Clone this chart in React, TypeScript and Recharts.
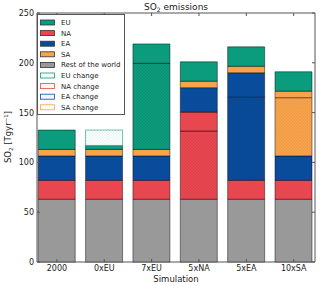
import React from "react";
import { BarChart, Bar, XAxis, YAxis, ReferenceArea } from "recharts";

const CATEGORIES = ["2000", "0xEU", "7xEU", "5xNA", "5xEA", "10xSA"];
const REST = [63, 63, 63, 63, 63, 63];
const NA = [19, 19, 19, 19, 19, 19];
const NA_CHANGE = [0, 0, 0, 68.5, 0, 0];
const EA = [24.5, 24.5, 24.5, 24.5, 24.5, 24.5];
const EA_CHANGE = [0, 0, 0, 0, 83.5, 0];
const SA = [6.5, 6.5, 6.5, 6.5, 6.5, 6.5];
const SA_CHANGE = [0, 0, 0, 0, 0, 58.5];
const EU = [19.5, 4, 19.5, 19.5, 19.5, 19.5];
const EU_CHANGE = [0, 0, 86.5, 0, 0, 0];
const EU_LOSS = [0, 15.5, 0, 0, 0, 0];
const Y_TICKS = [0, 50, 100, 150, 200, 250];

const COL = {
  EU: "#0a9c7c",
  NA: "#e9474f",
  EA: "#0a4c9c",
  SA: "#f8a24a",
  REST: "#999999",
};

const LEGEND = [
  { label: "EU", fill: COL.EU, stroke: "#333" },
  { label: "NA", fill: COL.NA, stroke: "#333" },
  { label: "EA", fill: COL.EA, stroke: "#333" },
  { label: "SA", fill: COL.SA, stroke: "#333" },
  { label: "Rest of the world", fill: COL.REST, stroke: "#333" },
  { label: "EU change", fill: "url(#w-eu)", stroke: COL.EU },
  { label: "NA change", fill: "url(#w-na)", stroke: COL.NA },
  { label: "EA change", fill: "url(#w-ea)", stroke: COL.EA },
  { label: "SA change", fill: "url(#w-sa)", stroke: COL.SA },
];

const data = CATEGORIES.map((c, i) => ({
  x: i,
  name: c,
  rest: REST[i],
  naChg: NA_CHANGE[i],
  na: NA[i],
  eaChg: EA_CHANGE[i],
  ea: EA[i],
  saChg: SA_CHANGE[i],
  sa: SA[i],
  euChg: EU_CHANGE[i],
  eu: EU[i],
  euLoss: EU_LOSS[i],
}));

const FONT = "DejaVu Sans, sans-serif";
const PLOT = { left: 37, right: 315, top: 13, bottom: 262 };

// hatched fills: solid colour + cross-hatch, or white + cross-hatch
function Hatch({ id, bg, line, op }: { id: string; bg: string; line: string; op: number }) {
  return (
    <pattern id={id} width="3" height="3" patternUnits="userSpaceOnUse">
      <rect width="3" height="3" fill={bg} />
      <path d="M0,0 L3,3 M3,0 L0,3" stroke={line} strokeWidth="0.5" strokeOpacity={op} />
    </pattern>
  );
}

function XTick(props: any) {
  const { x, payload } = props;
  return (
    <g>
      <line x1={x} x2={x} y1={PLOT.bottom} y2={PLOT.bottom - 3} stroke="#555" />
      <line x1={x} x2={x} y1={PLOT.top} y2={PLOT.top + 3} stroke="#555" />
      <text x={x} y={PLOT.bottom + 9} textAnchor="middle" fontSize={8} fontFamily={FONT} fill="#222">
        {CATEGORIES[payload.value]}
      </text>
    </g>
  );
}

function YTick(props: any) {
  const { y, payload } = props;
  return (
    <g>
      <line x1={PLOT.left} x2={PLOT.left + 3} y1={y} y2={y} stroke="#555" />
      <line x1={PLOT.right} x2={PLOT.right - 3} y1={y} y2={y} stroke="#555" />
      <text x={PLOT.left - 3} y={y + 3} textAnchor="end" fontSize={8} fontFamily={FONT} fill="#222">
        {payload.value}
      </text>
    </g>
  );
}

const EDGE = "rgba(0,0,0,0.45)";

export default function App() {
  return (
    <div style={{ position: "absolute", left: 0, top: 0, width: 320, height: 286, background: "#fff" }}>
      <svg width="0" height="0" style={{ position: "absolute" }}>
        <defs>
          <Hatch id="h-eu" bg={COL.EU} line="#000" op={0.08} />
          <Hatch id="h-na" bg={COL.NA} line="#000" op={0.07} />
          <Hatch id="h-ea" bg={COL.EA} line="#000" op={0.12} />
          <Hatch id="h-sa" bg={COL.SA} line="#000" op={0.06} />
          <Hatch id="w-eu" bg="#fff" line={COL.EU} op={0.14} />
          <Hatch id="w-na" bg="#fff" line={COL.NA} op={0.14} />
          <Hatch id="w-ea" bg="#fff" line={COL.EA} op={0.14} />
          <Hatch id="w-sa" bg="#fff" line={COL.SA} op={0.14} />
        </defs>
      </svg>
      <BarChart width={320} height={286} data={data} margin={{ top: 13, right: 5, bottom: 0, left: 0 }}>
        <XAxis
          type="number"
          dataKey="x"
          domain={[-0.42, 5.45]}
          ticks={[0, 1, 2, 3, 4, 5]}
          allowDataOverflow
          height={24}
          axisLine={false}
          tickLine={false}
          tickSize={0}
          tick={<XTick />}
        />
        <YAxis
          domain={[0, 250]}
          ticks={Y_TICKS}
          width={37}
          axisLine={false}
          tickLine={false}
          tickSize={0}
          tick={<YTick />}
        />
        <Bar dataKey="rest" stackId="s" barSize={37} fill={COL.REST} stroke={EDGE} isAnimationActive={false} />
        <Bar dataKey="naChg" stackId="s" barSize={37} fill="url(#h-na)" stroke={EDGE} isAnimationActive={false} />
        <Bar dataKey="na" stackId="s" barSize={37} fill={COL.NA} stroke={EDGE} isAnimationActive={false} />
        <Bar dataKey="eaChg" stackId="s" barSize={37} fill="url(#h-ea)" stroke={EDGE} isAnimationActive={false} />
        <Bar dataKey="ea" stackId="s" barSize={37} fill={COL.EA} stroke={EDGE} isAnimationActive={false} />
        <Bar dataKey="saChg" stackId="s" barSize={37} fill="url(#h-sa)" stroke={EDGE} isAnimationActive={false} />
        <Bar dataKey="sa" stackId="s" barSize={37} fill={COL.SA} stroke={EDGE} isAnimationActive={false} />
        <Bar dataKey="euChg" stackId="s" barSize={37} fill="url(#h-eu)" stroke={EDGE} isAnimationActive={false} />
        <Bar dataKey="eu" stackId="s" barSize={37} fill={COL.EU} stroke={EDGE} isAnimationActive={false} />
        <Bar dataKey="euLoss" stackId="s" barSize={37} fill="url(#w-eu)" stroke={COL.EU} strokeOpacity={0.6} isAnimationActive={false} />
        <ReferenceArea x1={-0.42} x2={5.45} y1={0} y2={250} fill="none" stroke="#555" strokeWidth={1} ifOverflow="extendDomain" />
      </BarChart>
      <svg width={320} height={286} style={{ position: "absolute", left: 0, top: 0, pointerEvents: "none" }}>
        <text x={176} y={10} textAnchor="middle" fontSize={9} fontFamily={FONT} fill="#222">
          SO<tspan fontSize={6} dy={2}>2</tspan>
          <tspan dy={-2}> emissions</tspan>
        </text>
        <text
          transform="translate(11,137) rotate(-90)"
          textAnchor="middle"
          fontSize={8.5}
          fontFamily={FONT}
          fill="#222"
        >
          SO<tspan fontSize={5.5} dy={2}>2</tspan>
          <tspan dy={-2}> [Tgyr</tspan>
          <tspan fontSize={5.5} dy={-3}>−1</tspan>
          <tspan dy={3}>]</tspan>
        </text>
        <text x={176} y={282} textAnchor="middle" fontSize={8.5} fontFamily={FONT} fill="#222">
          Simulation
        </text>
        <g>
          <rect x={37.5} y={14.5} width={87} height={100} fill="#fff" stroke="#555" strokeWidth={1} />
          {LEGEND.map((d, i) => {
            const cy = 22.5 + i * 10.6;
            return (
              <g key={d.label}>
                <rect x={40.5} y={cy - 2.5} width={14} height={5} fill={d.fill} stroke={d.stroke} strokeWidth={0.8} />
                <text x={61} y={cy + 2.5} fontSize={7} fontFamily={FONT} fill="#222">
                  {d.label}
                </text>
              </g>
            );
          })}
        </g>
      </svg>
    </div>
  );
}
